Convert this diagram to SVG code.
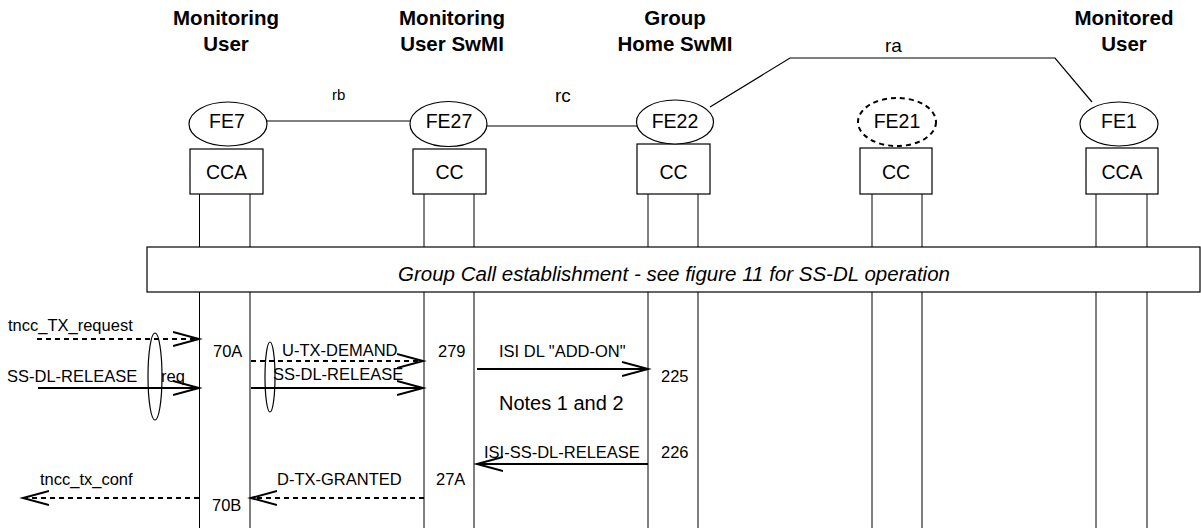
<svg xmlns="http://www.w3.org/2000/svg" width="1201" height="528" viewBox="0 0 1201 528">
<style>
text{font-family:"Liberation Sans",Arial,sans-serif;fill:#000}
.hdr{font-size:20.5px;font-weight:bold;text-anchor:middle}
.fe{font-size:19.5px;text-anchor:middle}
.lbl{font-size:16.5px}
.ref{font-size:19px}
.fen{fill:#fff;stroke:#000;stroke-width:1.2}
.box{fill:#fff;stroke:#000;stroke-width:1.2}
.life{stroke:#000;stroke-width:1;fill:none}
.link{stroke:#000;stroke-width:1.2;fill:none}
.msg{stroke:#000;stroke-width:2;fill:none}
.dash{stroke-dasharray:5 4}
.loop{fill:none;stroke:#000;stroke-width:1.2}
</style>
<defs>
<marker id="ah" markerUnits="userSpaceOnUse" markerWidth="30" markerHeight="18" refX="26" refY="8" orient="auto">
<path d="M0,1 L26,8 L0,15" fill="none" stroke="#000" stroke-width="2" stroke-dasharray="none"/>
</marker>
</defs>

<g id="headers">
<text class="hdr" x="226" y="25">Monitoring</text>
<text class="hdr" x="226" y="51">User</text>
<text class="hdr" x="452" y="25">Monitoring</text>
<text class="hdr" x="452" y="51">User SwMI</text>
<text class="hdr" x="675" y="25">Group</text>
<text class="hdr" x="675" y="51">Home SwMI</text>
<text class="hdr" x="1124" y="25">Monitored</text>
<text class="hdr" x="1124" y="51">User</text>
</g>

<g id="connectors">
<line class="link" x1="267" y1="121" x2="411" y2="121"/>
<line class="link" x1="487" y1="126" x2="637" y2="126"/>
<polyline class="link" points="710,107 790,58 1055,58 1092,102"/>
<text x="332" y="100" style="font-size:15px">rb</text>
<text class="ref" x="555" y="102">rc</text>
<text class="ref" x="885" y="52">ra</text>
</g>

<g id="FE7">
<line class="life" x1="199.5" y1="194" x2="199.5" y2="528"/>
<line class="life" x1="250" y1="194" x2="250" y2="528"/>
<rect class="box" x="190" y="149" width="73" height="45"/>
<text class="fe" x="226.5" y="179">CCA</text>
<ellipse class="fen" cx="228" cy="124" rx="39" ry="22"/>
<text class="fe" x="227" y="128">FE7</text>
</g>

<g id="FE27">
<line class="life" x1="424" y1="194" x2="424" y2="528"/>
<line class="life" x1="474" y1="194" x2="474" y2="528"/>
<rect class="box" x="413" y="149" width="73" height="45"/>
<text class="fe" x="449.5" y="179">CC</text>
<ellipse class="fen" cx="448.5" cy="124" rx="38.5" ry="22.5"/>
<text class="fe" x="449" y="128">FE27</text>
</g>

<g id="FE22">
<line class="life" x1="648" y1="194" x2="648" y2="528"/>
<line class="life" x1="698" y1="194" x2="698" y2="528"/>
<rect class="box" x="637" y="144" width="73" height="50"/>
<text class="fe" x="673.5" y="179">CC</text>
<ellipse class="fen" cx="675" cy="122" rx="38.5" ry="22" stroke-width="2"/>
<text class="fe" x="675" y="128">FE22</text>
</g>

<g id="FE21">
<line class="life" x1="872" y1="194" x2="872" y2="528"/>
<line class="life" x1="922" y1="194" x2="922" y2="528"/>
<rect class="box" x="860" y="148" width="72" height="46"/>
<text class="fe" x="896" y="179">CC</text>
<ellipse cx="897" cy="122" rx="39" ry="24" fill="#fff" stroke="#000" stroke-width="2" stroke-dasharray="5 4"/>
<text class="fe" x="897" y="128">FE21</text>
</g>

<g id="FE1">
<line class="life" x1="1096" y1="194" x2="1096" y2="528"/>
<line class="life" x1="1147" y1="194" x2="1147" y2="528"/>
<rect class="box" x="1086" y="148" width="72" height="46"/>
<text class="fe" x="1122" y="179">CCA</text>
<ellipse class="fen" cx="1119" cy="124" rx="39" ry="22"/>
<text class="fe" x="1119" y="128">FE1</text>
</g>

<g id="group-call">
<rect x="147" y="247" width="1053" height="45" fill="#fff" stroke="#000" stroke-width="1.2"/>
<text x="674" y="281" style="font-size:20.5px;font-style:italic;text-anchor:middle">Group Call establishment - see figure 11 for SS-DL operation</text>
</g>

<g id="messages">
<line class="msg dash" x1="37" y1="339" x2="199" y2="339" marker-end="url(#ah)"/>
<line class="msg" x1="38" y1="388" x2="199" y2="388" marker-end="url(#ah)"/>
<line class="msg dash" x1="251" y1="361" x2="423" y2="361" marker-end="url(#ah)"/>
<line class="msg" x1="251" y1="388" x2="423" y2="388" marker-end="url(#ah)"/>
<line class="msg" x1="477" y1="369" x2="648" y2="369" marker-end="url(#ah)"/>
<line class="msg" x1="648" y1="464" x2="477" y2="464" marker-end="url(#ah)"/>
<line class="msg dash" x1="199" y1="498" x2="23" y2="498" marker-end="url(#ah)"/>
<line class="msg dash" x1="424" y1="498" x2="251" y2="498" marker-end="url(#ah)"/>
<ellipse class="loop" cx="155" cy="376.5" rx="7" ry="43.5"/>
<ellipse class="loop" cx="270" cy="377" rx="5" ry="35"/>
<text class="lbl" x="8" y="331">tncc_TX_request</text>
<text class="lbl" x="7" y="382">SS-DL-RELEASE</text>
<text class="lbl" x="161" y="382">req</text>
<text class="lbl" x="213" y="357">70A</text>
<text class="lbl" x="282" y="356">U-TX-DEMAND</text>
<text class="lbl" x="273" y="380">SS-DL-RELEASE</text>
<text class="lbl" x="438" y="357">279</text>
<text class="lbl" x="499" y="357">ISI DL "ADD-ON"</text>
<text class="lbl" x="661" y="382">225</text>
<text x="499" y="410" style="font-size:20px">Notes 1 and 2</text>
<text class="lbl" x="484" y="458">ISI-SS-DL-RELEASE</text>
<text class="lbl" x="661" y="458">226</text>
<text class="lbl" x="436" y="485">27A</text>
<text class="lbl" x="40" y="485">tncc_tx_conf</text>
<text class="lbl" x="212" y="511">70B</text>
<text class="lbl" x="277" y="485">D-TX-GRANTED</text>
</g>
</svg>
